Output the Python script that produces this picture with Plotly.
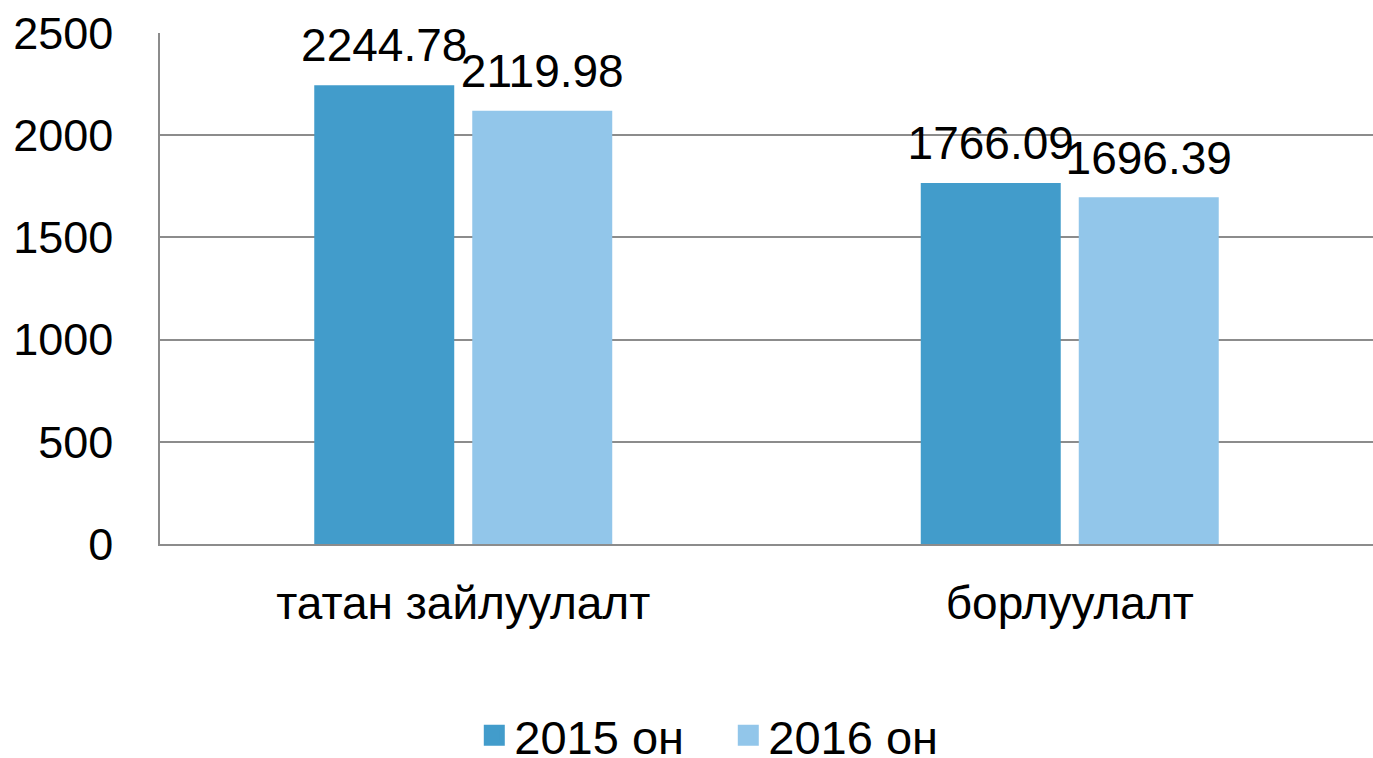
import plotly.graph_objects as go

categories = ["татан зайлуулалт", "борлуулалт"]
series_names = ["2015 он", "2016 он"]
values_2015 = [2244.78, 1766.09]
values_2016 = [2119.98, 1696.39]
y_ticks = [0, 500, 1000, 1500, 2000, 2500]

colors = ["#429CCB", "#92C6EA"]
FONT = "Liberation Sans, Arial, sans-serif"
GAP = 0.479
groups = ["g2015", "g2016"]

fig = go.Figure()
for name, vals, col, g in zip(series_names, [values_2015, values_2016], colors, groups):
    fig.add_trace(go.Bar(
        x=categories, y=vals, name=name, offsetgroup=g,
        marker=dict(color=col, line=dict(width=0)),
        showlegend=False, hoverinfo="skip",
    ))
# value labels, grouped like the bars
for name, vals, g in zip(series_names, [values_2015, values_2016], groups):
    fig.add_trace(go.Scatter(
        x=categories, y=vals, mode="markers+text", name=name + " labels",
        offsetgroup=g,
        marker=dict(size=18, opacity=0),
        text=[f"{v:.2f}" for v in vals],
        textposition="top center",
        textfont=dict(size=46, color="#000000", family=FONT),
        cliponaxis=False, showlegend=False, hoverinfo="skip",
    ))
# legend entries (bigger square swatches)
for name, col, g in zip(series_names, colors, groups):
    fig.add_trace(go.Scatter(
        x=[None], y=[None], mode="markers", name=name, offsetgroup=g,
        marker=dict(symbol="square", size=16, color=col, line=dict(color=col, width=5)),
        showlegend=True,
    ))

fig.update_layout(
    width=1373, height=758,
    paper_bgcolor="white", plot_bgcolor="white",
    margin=dict(l=160, r=0, t=33, b=214, autoexpand=False),
    barmode="group", bargap=GAP, bargroupgap=0.114,
    scattermode="group", scattergap=GAP,
    font=dict(family=FONT, color="#000000", size=46),
    legend=dict(orientation="h", x=0.4685, xanchor="center",
                y=-0.375, yanchor="middle", entrywidth=209,
                font=dict(size=47, family=FONT),
                bgcolor="rgba(0,0,0,0)"),
)
fig.update_yaxes(
    range=[0, 2500], tickvals=y_ticks, showgrid=True, gridcolor="#8C8C8C", gridwidth=1.5,
    showline=True, linecolor="#8C8C8C", linewidth=1.5, zeroline=False,
    tickfont=dict(size=45, family=FONT), ticks="", ticklabelstandoff=36,
)
fig.update_xaxes(
    showline=True, linecolor="#8C8C8C", linewidth=1.5, showgrid=False,
    tickfont=dict(size=46, family=FONT), ticks="", ticklabelstandoff=18, tickangle=0,
)

fig.write_html("out.html", config={"displayModeBar": False},
               post_script="document.body.style.margin='0';document.body.style.overflow='hidden';")
